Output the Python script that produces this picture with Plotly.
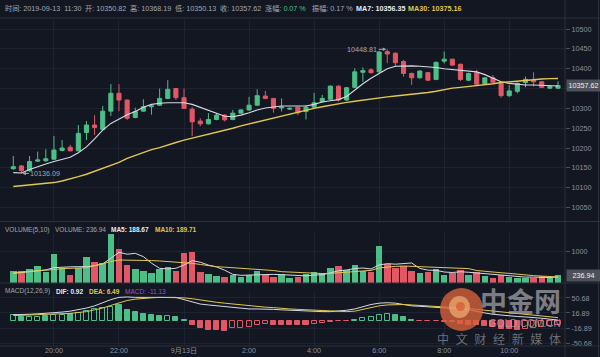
import plotly.graph_objects as go

# ---------------- data ----------------
idx = list(range(68))
open_ = [10148, 10155, 10143, 10167, 10168, 10172, 10194, 10202, 10193, 10239,
         10258, 10247, 10293, 10338, 10321, 10277, 10293, 10304, 10308, 10325,
         10350, 10327, 10298, 10268, 10261, 10272, 10283, 10272, 10288, 10296,
         10308, 10331, 10325, 10301, 10298, 10303, 10292, 10303, 10317, 10323,
         10356, 10321, 10353, 10391, 10397, 10392, 10443, 10439, 10418, 10388,
         10377, 10390, 10373, 10419, 10424, 10411, 10371, 10390, 10362, 10377,
         10363, 10332, 10343, 10365, 10371, 10367, 10351, 10350.82]
high = [10180, 10157, 10180, 10191, 10197, 10230, 10220, 10208, 10258, 10268,
        10283, 10306, 10361, 10361, 10322, 10302, 10323, 10310, 10350, 10371,
        10351, 10350, 10303, 10275, 10288, 10288, 10285, 10296, 10298, 10329,
        10348, 10344, 10326, 10325, 10303, 10304, 10308, 10339, 10334, 10358,
        10358, 10354, 10401, 10403, 10401, 10445, 10448.81, 10441, 10422, 10390,
        10396, 10392, 10418, 10443, 10425, 10413, 10390, 10397, 10378, 10384,
        10365, 10359, 10365, 10380, 10391, 10369, 10357, 10368.19]
low = [10145, 10136.09, 10140, 10165, 10165, 10170, 10192, 10192, 10192, 10220,
       10233, 10245, 10281, 10293, 10271, 10275, 10292, 10284, 10306, 10323,
       10321, 10299, 10230, 10255, 10259, 10270, 10267, 10270, 10286, 10294,
       10306, 10323, 10289, 10292, 10296, 10283, 10272, 10301, 10315, 10321,
       10317, 10319, 10351, 10367, 10388, 10390, 10414, 10405, 10380, 10359,
       10375, 10369, 10371, 10413, 10407, 10369, 10369, 10359, 10359, 10364,
       10327, 10329, 10338, 10353, 10355, 10351, 10349, 10350.13]
close = [10153, 10143, 10166, 10170, 10173, 10195, 10200, 10193, 10237, 10258,
         10252, 10293, 10338, 10321, 10275, 10292, 10304, 10306, 10325, 10348,
         10327, 10300, 10266, 10261, 10272, 10283, 10271, 10288, 10296, 10308,
         10332, 10325, 10300, 10303, 10300, 10289, 10303, 10314, 10325, 10356,
         10321, 10352, 10392, 10395, 10390, 10442, 10437, 10415, 10388, 10377,
         10394, 10371, 10416, 10424, 10409, 10373, 10388, 10361, 10377, 10366,
         10332, 10344, 10363, 10373, 10367, 10353, 10355, 10357.62]
ma7 = [10138, 10137, 10146, 10154, 10160, 10166, 10171, 10177, 10188, 10203,
       10223, 10245, 10262, 10274, 10284, 10292, 10303, 10310, 10313, 10314,
       10314, 10314, 10310, 10302, 10294, 10286, 10280, 10279, 10283, 10289,
       10296, 10301, 10304, 10306, 10306, 10306, 10306, 10310, 10316, 10319,
       10322, 10330, 10347, 10362, 10376, 10388, 10400, 10406, 10407, 10407,
       10406, 10405, 10403, 10400, 10398, 10396, 10395, 10392, 10385, 10376,
       10367, 10363, 10361, 10359, 10359, 10358, 10356, 10356.35]
ma30 = [10103, 10105, 10107, 10109, 10111, 10113, 10117, 10122, 10128, 10134,
        10141, 10148, 10155, 10164, 10174, 10181, 10190, 10196, 10201, 10208,
        10214, 10220, 10225, 10230, 10235, 10239, 10245, 10250, 10256, 10261,
        10265, 10270, 10276, 10280, 10286, 10290, 10296, 10300, 10304, 10308,
        10312, 10315, 10318, 10321, 10324, 10327, 10329, 10331, 10333, 10335,
        10337, 10340, 10343, 10347, 10351, 10353, 10355, 10357, 10360, 10362,
        10365, 10367, 10369, 10371, 10373, 10374, 10375, 10375.16]
volume = [375, 375, 437, 531, 354, 917, 479, 250, 458, 812,
          656, 615, 1521, 1052, 562, 437, 375, 323, 427, 510,
          385, 927, 958, 354, 271, 219, 198, 250, 177, 250,
          385, 250, 198, 271, 167, 198, 280, 330, 300, 480,
          520, 400, 560, 380, 330, 1150, 600, 480, 520, 380,
          300, 330, 450, 260, 300, 420, 250, 330, 220, 160,
          260, 180, 150, 170, 160, 220, 150, 236.94]
vol_ma5 = [300, 330, 354, 400, 410, 479, 500, 505, 510, 510,
           540, 600, 771, 958, 900, 927, 823, 620, 458, 440,
           460, 562, 700, 650, 560, 500, 400, 271, 240, 250,
           260, 270, 270, 260, 250, 220, 223, 249, 255, 318,
           382, 406, 452, 468, 438, 564, 604, 588, 616, 626,
           456, 402, 396, 344, 328, 352, 336, 312, 304, 276,
           244, 230, 194, 184, 184, 176, 170, 188.67]
vol_ma10 = [323, 340, 360, 380, 406, 420, 450, 458, 470, 479,
            540, 615, 670, 719, 719, 719, 715, 700, 688, 670,
            655, 640, 615, 580, 540, 510, 495, 479, 470, 458,
            430, 406, 390, 354, 340, 323, 310, 300, 295, 300,
            315, 335, 360, 380, 395, 470, 505, 520, 530, 530,
            510, 500, 490, 480, 470, 460, 450, 390, 360, 340,
            320, 300, 270, 250, 230, 215, 200, 189.71]
macd_hist = [12, 7, 8, 9, 10, 12, 13, 14, 18, 21,
             25, 28, 30, 34, 24, 19, 15, 12, 11, 11,
             8, 2, -10, -17.6, -21, -21, -23.6, -17.6, -16, -15,
             -9, -7, -10, -10, -10, -11, -10, -7, -6, -4,
             -2, -1, 2, 5, 7, 12, 14, 12, 8, 2,
             -1, -2, -2, -3, -4, -7, -9, -11, -13, -15,
             -18, -20, -21, -20, -17, -15, -13, -11.13]
macd_filled = [0, 1, 0, 0, 1, 0, 0, 1, 0, 0,
               0, 0, 0, 1, 1, 1, 1, 1, 1, 0,
               1, 1, 1, 1, 1, 1, 1, 0, 0, 0,
               0, 0, 1, 1, 1, 1, 1, 0, 0, 0,
               0, 0, 0, 0, 0, 0, 0, 1, 1, 1,
               1, 1, 1, 1, 1, 1, 1, 1, 1, 1,
               1, 1, 1, 0, 0, 0, 0, 0]
dif = [13, 13, 14, 15, 16, 17, 19, 21, 24, 28,
       33, 40, 47, 52, 53, 52, 52, 52, 52, 52,
       52, 47, 42, 37, 35, 33, 31, 30, 28, 26,
       26, 26, 25, 24, 23, 22, 21, 21, 20, 20,
       21, 23, 26, 31, 36, 39, 40, 39, 36, 33,
       32, 31, 30, 29, 28, 26, 24, 20, 17, 14,
       12, 10, 9, 8, 7, 5, 3, 0.92]
dea = [11, 11.5, 12, 12.5, 13, 14, 15, 16, 18, 20,
       24, 28, 34, 40, 45, 48, 50, 51, 52, 52,
       52, 51, 49, 46, 43, 41, 39, 37, 35, 33,
       31, 30, 29, 27, 26, 25, 24, 23, 22, 21,
       20, 20, 21, 25, 29, 33, 35, 36, 36, 35,
       34, 33, 32, 31, 30, 28, 27, 25, 23, 21,
       19, 17, 15, 13, 12, 10, 8, 6.49]
tick_idx = [5, 13, 21, 29, 37, 45, 53, 61]
tick_labels = ["20:00", "22:00", "9月13日", "2:00", "4:00", "6:00", "8:00", "10:00"]
price_ticks = [10050, 10100, 10150, 10200, 10250, 10300, 10350, 10400, 10450, 10500]
price_tick_labels = ["10050", "10100", "10150", "10200", "10250", "10300", "", "10400", "10450", "10500"]
vol_ticks = [1000]
vol_tick_labels = ["1000"]
macd_ticks = [50.68, 16.89, -16.89, -50.68]
macd_tick_labels = ["50.68", "16.89", "-16.89", "-50.68"]
max_idx, max_val = 46, 10448.81
min_idx, min_val = 1, 10136.09
last_close = 10357.62
last_volume = 236.94

# ---------------- style ----------------
W, H = 600, 357
ML, MR, MT, MB = 0, 35, 20, 12
def px(x):
    return (x - ML) / (W - ML - MR)
def py(y):
    return (H - MB - y) / (H - MT - MB)

BG = "#131722"
GRID = "#1f2331"
SEP = "#2c313e"
TXT = "#8d929c"
UP = "#4cbf86"
DOWN = "#e25766"
WHITE_LINE = "#d7dae3"
YELLOW = "#e2c64e"
FONT = "Liberation Sans, Noto Sans CJK SC, sans-serif"
FS = 7.2
FS_SUB = 6.5

fig = go.Figure()

fig.add_trace(go.Candlestick(
    x=idx, open=open_, high=high, low=low, close=close,
    increasing=dict(line=dict(color=UP, width=1), fillcolor=UP),
    decreasing=dict(line=dict(color=DOWN, width=1), fillcolor=DOWN),
    whiskerwidth=0, xaxis="x", yaxis="y", showlegend=False, hoverinfo="skip"))
fig.add_trace(go.Scatter(x=idx, y=ma7, mode="lines", line=dict(color=WHITE_LINE, width=1.1),
                         xaxis="x", yaxis="y", showlegend=False, hoverinfo="skip"))
fig.add_trace(go.Scatter(x=idx, y=ma30, mode="lines", line=dict(color=YELLOW, width=1.4),
                         xaxis="x", yaxis="y", showlegend=False, hoverinfo="skip"))

vol_colors = [UP if c >= o else DOWN for o, c in zip(open_, close)]
fig.add_trace(go.Bar(x=idx, y=volume, width=0.8, marker=dict(color=vol_colors, line=dict(width=0)),
                     xaxis="x", yaxis="y2", showlegend=False, hoverinfo="skip"))
fig.add_trace(go.Scatter(x=idx, y=vol_ma5, mode="lines", line=dict(color=WHITE_LINE, width=1),
                         xaxis="x", yaxis="y2", showlegend=False, hoverinfo="skip"))
fig.add_trace(go.Scatter(x=idx, y=vol_ma10, mode="lines", line=dict(color=YELLOW, width=1),
                         xaxis="x", yaxis="y2", showlegend=False, hoverinfo="skip"))

m_line = [UP if v >= 0 else DOWN for v in macd_hist]
m_fill = [(UP if v >= 0 else DOWN) if f else "rgba(0,0,0,0)" for v, f in zip(macd_hist, macd_filled)]
fig.add_trace(go.Bar(x=idx, y=macd_hist, width=0.62,
                     marker=dict(color=m_fill, line=dict(color=m_line, width=1)),
                     xaxis="x", yaxis="y3", showlegend=False, hoverinfo="skip"))
fig.add_trace(go.Scatter(x=idx, y=dif, mode="lines", line=dict(color=WHITE_LINE, width=1),
                         xaxis="x", yaxis="y3", showlegend=False, hoverinfo="skip"))
fig.add_trace(go.Scatter(x=idx, y=dea, mode="lines", line=dict(color=YELLOW, width=1),
                         xaxis="x", yaxis="y3", showlegend=False, hoverinfo="skip"))

# axis ranges derived from the pixel layout of the reference
x_lo = (0 - 13.3) / 8.13
x_hi = (565 - 13.3) / 8.13
p_scale = 2.52
p_lo = 10500 - (220 - 29) * p_scale
p_hi = 10500 - (20 - 29) * p_scale
v_hi = (283 - 232) / 0.032
m_hi = (320.5 - 292) * 2.25
m_lo = (320.5 - 345) * 2.25

axis_common = dict(side="right", showline=False, zeroline=False, ticks="outside", ticklen=4,
                   tickcolor="#4a4f5c", tickfont=dict(size=FS, color=TXT, family=FONT),
                   gridcolor=GRID, gridwidth=1, fixedrange=True)

fig.update_layout(
    width=W, height=H, paper_bgcolor=BG, plot_bgcolor=BG,
    margin=dict(l=ML, r=MR, t=MT, b=MB), showlegend=False, bargap=0,
    boxgap=0.28, font=dict(family=FONT, size=FS, color=TXT),
    xaxis=dict(range=[x_lo, x_hi], anchor="y3", tickvals=tick_idx, ticktext=tick_labels,
               showgrid=True, gridcolor=GRID, zeroline=False, showline=False, ticks="",
               tickfont=dict(size=FS, color=TXT, family=FONT), rangeslider=dict(visible=False),
               fixedrange=True),
    yaxis=dict(domain=[py(220), 1], range=[p_lo, p_hi], tickvals=price_ticks,
               ticktext=price_tick_labels, anchor="x", **axis_common),
    yaxis2=dict(domain=[py(283), py(232)], range=[0, v_hi], tickvals=vol_ticks,
                ticktext=vol_tick_labels, anchor="x", **axis_common),
    yaxis3=dict(domain=[0, py(292)], range=[m_lo, m_hi], tickvals=macd_ticks,
                ticktext=macd_tick_labels, anchor="x", **axis_common),
)

shapes = []
for yy in [18, 221.5, 283, 346]:
    shapes.append(dict(type="line", xref="paper", yref="paper", x0=px(0), x1=px(600),
                       y0=py(yy), y1=py(yy), line=dict(color=SEP, width=1)))
for xx in [565, 598.5]:
    shapes.append(dict(type="line", xref="paper", yref="paper", x0=px(xx), x1=px(xx),
                       y0=py(0), y1=py(357), line=dict(color=SEP, width=1)))
# watermark logo
shapes.append(dict(type="circle", xref="paper", yref="paper", x0=px(440), x1=px(483),
                   y0=py(331), y1=py(288), fillcolor="rgba(214,98,60,0.80)", line=dict(width=0),
                   layer="above"))
shapes.append(dict(type="circle", xref="paper", yref="paper", x0=px(449), x1=px(470),
                   y0=py(318), y1=py(296), fillcolor="rgba(238,170,112,0.75)", line=dict(width=0),
                   layer="above"))
shapes.append(dict(type="circle", xref="paper", yref="paper", x0=px(456), x1=px(465),
                   y0=py(311), y1=py(302), fillcolor="rgba(214,98,60,0.85)", line=dict(width=0),
                   layer="above"))
fig.update_layout(shapes=shapes)

ann = []
def label(x, y, text, color, size=FS, bold=False, anchor="left"):
    t = f"<b>{text}</b>" if bold else text
    ann.append(dict(xref="paper", yref="paper", x=px(x), y=py(y), text=t, showarrow=False,
                    xanchor=anchor, yanchor="middle", font=dict(size=size, color=color, family=FONT)))

HDR = "#a3a8b1"
label(3, 9, "时间: 2019-09-13  11:30", HDR)
label(83, 9, "开: 10350.82", HDR)
label(128, 9, "高: 10368.19", HDR)
label(173, 9, "低: 10350.13", HDR)
label(218, 9, "收: 10357.62", HDR)
label(263, 9, "涨幅: <span style='color:#4cbf86'>0.07 %</span>", HDR)
label(310, 9, "振幅: 0.17 %", HDR)
label(354, 9, "MA7: 10356.35", "#e8eaf0", bold=True)
label(406, 9, "MA30: 10375.16", YELLOW, bold=True)

label(3, 230, "VOLUME(5,10)", HDR, size=FS_SUB)
label(53, 230, "VOLUME: 236.94", HDR, size=FS_SUB)
label(109, 230, "MA5: 188.67", "#e8eaf0", size=FS_SUB, bold=True)
label(153, 230, "MA10: 189.71", YELLOW, size=FS_SUB, bold=True)

label(3, 291, "MACD(12,26,9)", HDR, size=FS_SUB)
label(54, 291, "DIF: 0.92", "#e8eaf0", size=FS_SUB, bold=True)
label(87, 291, "DEA: 6.49", YELLOW, size=FS_SUB, bold=True)
label(123, 291, "MACD: -11.13", "#a24fd0", size=FS_SUB)

# max / min markers
ann.append(dict(x=max_idx, y=max_val, xref="x", yref="y", text=f"{max_val:.2f}", showarrow=True,
                ax=-25, ay=0, arrowhead=2, arrowsize=0.7, arrowwidth=1, arrowcolor="#a3a8b1",
                standoff=1, font=dict(size=FS, color="#a3a8b1", family=FONT)))
ann.append(dict(x=min_idx, y=min_val, xref="x", yref="y", text=f"{min_val:.2f}", showarrow=True,
                ax=24, ay=0, arrowhead=2, arrowsize=0.7, arrowwidth=1, arrowcolor="#a3a8b1",
                standoff=1, font=dict(size=FS, color="#a3a8b1", family=FONT)))

# last value boxes
ann.append(dict(xref="paper", yref="y", x=px(566), y=last_close, text=f"{last_close:.2f}",
                showarrow=False, xanchor="left", yanchor="middle", bgcolor="#4d5159",
                borderpad=1, font=dict(size=FS, color="#f0f0f0", family=FONT), width=31))
ann.append(dict(xref="paper", yref="y2", x=px(566), y=last_volume, text=f"{last_volume:.2f}",
                showarrow=False, xanchor="left", yanchor="middle", bgcolor="#4d5159",
                borderpad=1, font=dict(size=FS, color="#f0f0f0", family=FONT), width=31))

# watermark texts (kept just left of the right axis labels)
label(563, 303, "<b>中金网</b>", "rgba(165,165,170,0.72)", size=27, anchor="right")
label(563, 323, "GOLD.COM.CN", "rgba(175,175,180,0.75)", size=10, anchor="right")
label(563, 339, "中  文  财  经  新  媒  体", "rgba(150,150,155,0.7)", size=12, anchor="right")

fig.update_layout(annotations=ann)
fig.write_html("out.html", config={"displayModeBar": False},
               post_script="document.body.style.margin='0';document.body.style.overflow='hidden';")
